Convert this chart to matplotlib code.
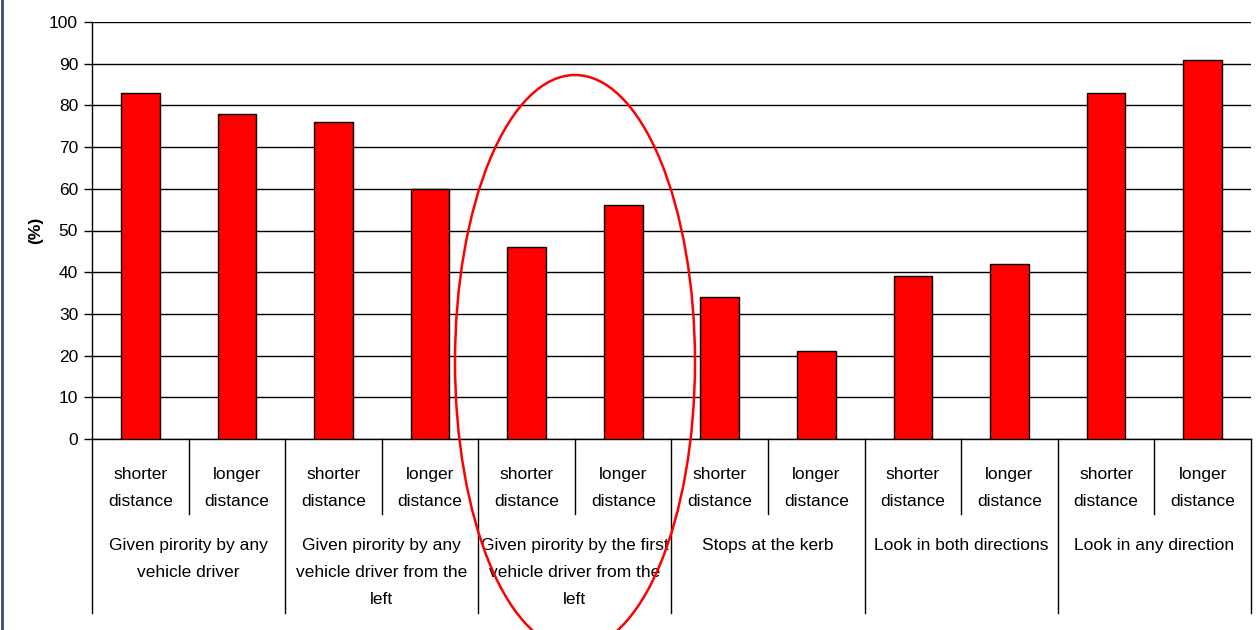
import matplotlib.pyplot as plt
from matplotlib.patches import Ellipse
from matplotlib.lines import Line2D
import matplotlib.transforms as mtransforms

plt.rcParams['font.family'] = ['Liberation Sans', 'DejaVu Sans']

groups = ["Given pirority by any\nvehicle driver",
          "Given pirority by any\nvehicle driver from the\nleft",
          "Given pirority by the first\nvehicle driver from the\nleft",
          "Stops at the kerb",
          "Look in both directions",
          "Look in any direction"]
sub_labels = ["shorter\ndistance", "longer\ndistance"]
values = [83, 78, 76, 60, 46, 56, 34, 21, 39, 42, 83, 91]

fig = plt.figure(figsize=(12.6, 6.3), dpi=100)
ax = fig.add_axes([92 / 1260, 1 - 439 / 630, 1159 / 1260, 417 / 630])

x = list(range(len(values)))
ax.bar(x, values, width=0.4, color="#ff0000", edgecolor="black", linewidth=1, zorder=3)

ax.set_xlim(-0.5, len(values) - 0.5)
ax.set_ylim(0, 100)
ax.set_yticks(range(0, 101, 10))
ax.tick_params(axis="y", labelsize=12.5, length=6, width=1, direction="out", pad=4)
ax.set_xticks([])
ax.yaxis.grid(True, color="black", linewidth=1, zorder=0)
for s in ["top", "right"]:
    ax.spines[s].set_visible(False)
ax.spines["left"].set_linewidth(1)
ax.spines["bottom"].set_linewidth(1)
ax.set_ylabel("(%)", fontsize=12.5, fontweight="bold", labelpad=4)

# category axis with two levels
trans = mtransforms.blended_transform_factory(ax.transData, ax.transAxes)
for i, v in enumerate(values):
    ax.text(i, -0.117, sub_labels[i % 2], transform=trans, ha="center", va="center",
            fontsize=12.5, linespacing=2.0)
    if i % 2 == 1:
        ax.add_line(Line2D([i - 0.5, i - 0.5], [0, -0.18], transform=trans,
                           color="black", linewidth=1, clip_on=False))
for g, name in enumerate(groups):
    ax.text(2 * g + 0.5, -0.238, name, transform=trans, ha="center", va="top",
            fontsize=12.5, linespacing=2.0)
for g in range(len(groups) + 1):
    xb = 2 * g - 0.5
    ax.add_line(Line2D([xb, xb], [0, -0.418], transform=trans,
                       color="black", linewidth=1, clip_on=False))

# highlight ellipse
ell = Ellipse((575 / 1260, 1 - 362 / 630), 240 / 1260, 574 / 630, transform=fig.transFigure,
              fill=False, edgecolor="#ff0000", linewidth=1.8, clip_on=False)
fig.patches.append(ell)

# left border
fig.add_artist(Line2D([1.5 / 1260, 1.5 / 1260], [0, 1], transform=fig.transFigure,
                      color="#3c4c6c", linewidth=2))

fig.savefig("out.png", dpi=100)
